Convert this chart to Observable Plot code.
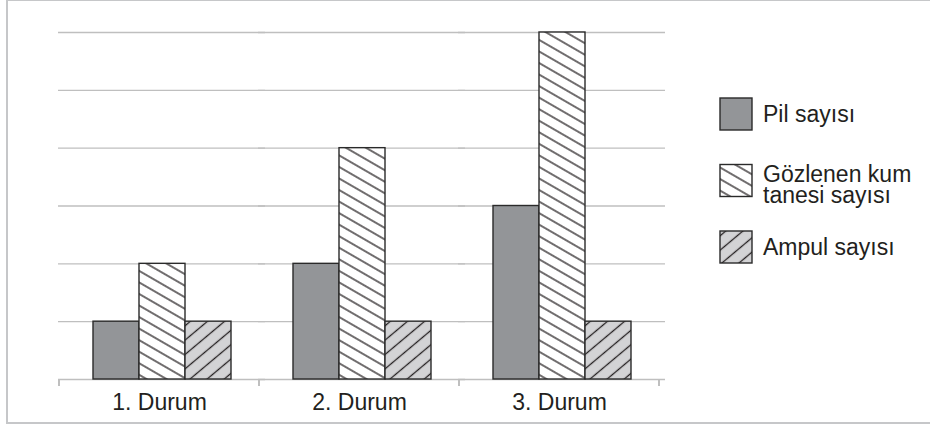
<!DOCTYPE html>
<html><head><meta charset="utf-8">
<script src="https://cdn.jsdelivr.net/npm/d3@7"></script>
<script src="https://cdn.jsdelivr.net/npm/@observablehq/plot@0.6"></script>
<style>
html,body{margin:0;padding:0;background:#fff;}
#wrap{position:relative;width:930px;height:428px;overflow:hidden;}
#frame{position:absolute;left:6px;top:-1px;width:940px;height:421px;border-left:2px solid #c6c7c9;border-top:2px solid #c6c7c9;border-bottom:2px solid #c6c7c9;}
#chart{position:absolute;left:0;top:0;}
</style></head><body>
<div id="wrap"><div id="frame"></div><div id="chart"></div></div>
<script>
const categories = ["1. Durum", "2. Durum", "3. Durum"];
const seriesNames = ["Pil sayısı", "Gözlenen kum tanesi sayısı", "Ampul sayısı"];
const pil = [1, 2, 3];
const kum = [2, 4, 6];
const ampul = [1, 1, 1];
const gridValues = [0, 1, 2, 3, 4, 5, 6];
const legendLines = [["Pil sayısı"], ["Gözlenen kum", "tanesi sayısı"], ["Ampul sayısı"]];
const seriesFills = ["#939598", "url(#hatchDown)", "url(#hatchUp)"];

const valuesBySeries = [pil, kum, ampul];
const rows = categories.flatMap((c, i) =>
  seriesNames.map((s, j) => ({cat: c, series: s, value: valuesBySeries[j][i]}))
);

const plot = Plot.plot({
  width: 930, height: 428,
  marginLeft: 59, marginRight: 271, marginTop: 32, marginBottom: 49,
  style: {fontFamily: "'Liberation Sans', Arial, Helvetica, sans-serif", fontSize: "23px", color: "#231f20", background: "transparent", overflow: "visible"},
  facet: {data: rows, x: "cat"},
  fx: {domain: categories, padding: 0, tickSize: 0, tickPadding: 14, label: null, axis: "bottom"},
  x: {domain: seriesNames, axis: null, paddingInner: 0, paddingOuter: 0.643, align: 0.55},
  y: {domain: [0, 6], axis: null},
  color: {type: "ordinal", domain: seriesNames, range: seriesFills},
  marks: [
    Plot.ruleY(gridValues, {stroke: "#bfbfbf", strokeWidth: 1.3, insetLeft: -1, insetRight: -6}),
    Plot.barY(rows, {x: "series", y: "value", fill: "series", stroke: "#2a2a2a", strokeWidth: 1.4})
  ]
});

const svg = d3.select(plot);
const defs = svg.insert("defs", ":first-child");
function hatch(id, bg, angle, size) {
  const p = defs.append("pattern").attr("id", id).attr("patternUnits", "userSpaceOnUse")
    .attr("width", size).attr("height", size).attr("patternTransform", `rotate(${angle})`);
  p.append("rect").attr("width", size).attr("height", size).attr("fill", bg);
  p.append("line").attr("x1", -1).attr("x2", size + 1).attr("y1", size / 2).attr("y2", size / 2)
    .attr("stroke", "#231f20").attr("stroke-width", 1.3);
}
hatch("hatchDown", "#ffffff", 30, 10);
hatch("hatchUp", "#d3d3d5", -40, 11);

// category boundary ticks from the fx scale
const fx = plot.scale("fx"), y = plot.scale("y"), color = plot.scale("color");
const edges = categories.map(c => fx.apply(c)).concat([fx.apply(categories[categories.length - 1]) + fx.bandwidth]);
const y0 = y.apply(0);
svg.append("g").selectAll("line").data(edges).join("line")
  .attr("x1", d => d).attr("x2", d => d).attr("y1", y0).attr("y2", y0 + 7)
  .attr("stroke", "#bfbfbf").attr("stroke-width", 2);

// legend
const legendTop = [98, 164.5, 231];
const lg = svg.append("g").attr("font-size", 23).attr("fill", "#231f20").attr("text-anchor", "start");
seriesNames.forEach((s, i) => {
  lg.append("rect").attr("x", 720).attr("y", legendTop[i]).attr("width", 32).attr("height", 32)
    .attr("fill", color.apply(s)).attr("stroke", "#2a2a2a").attr("stroke-width", 1.4);
  const lines = legendLines[i];
  const lh = 21;
  const base = legendTop[i] + 16 + 8 - (lines.length - 1) * lh / 2 + (lines.length > 1 ? 4 : 0);
  lines.forEach((t, k) => {
    lg.append("text").attr("x", 763).attr("y", base + k * lh).attr("text-anchor", "start")
      .attr("fill", "#231f20").text(t);
  });
});

document.getElementById("chart").append(plot);
</script>
</body></html>
